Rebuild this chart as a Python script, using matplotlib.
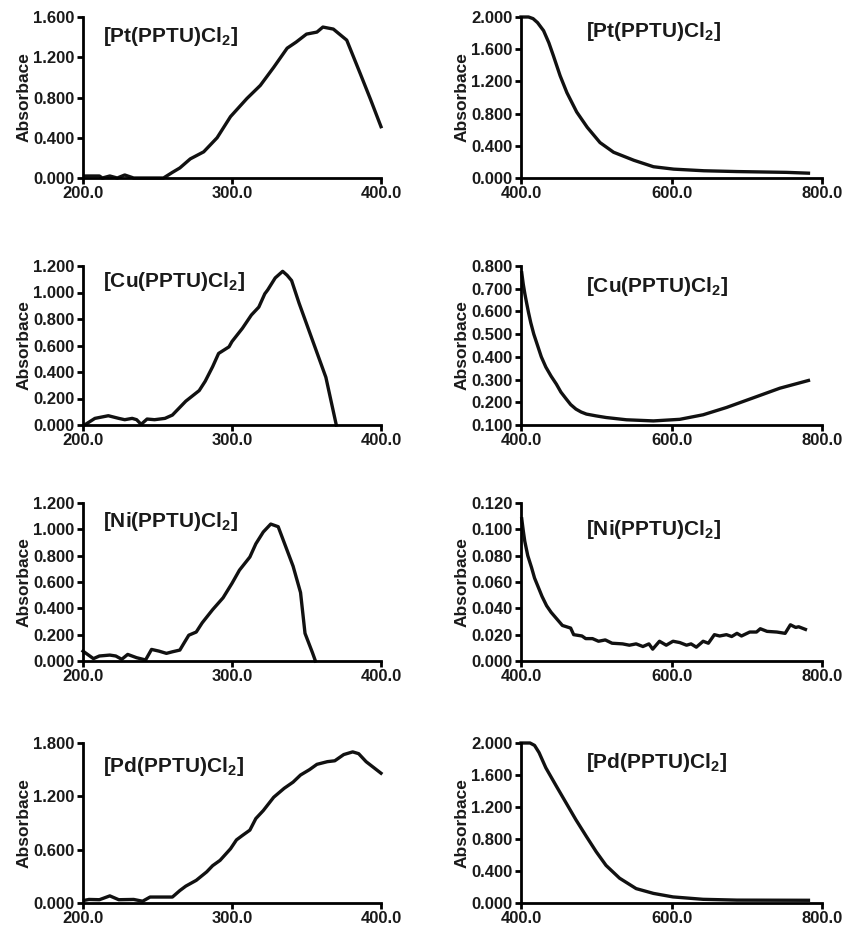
import matplotlib
matplotlib.use("Agg")
import matplotlib.pyplot as plt
from matplotlib.ticker import FormatStrFormatter

plt.rcParams["font.family"] = ["Liberation Sans", "DejaVu Sans"]
plt.rcParams["font.weight"] = "bold"
plt.rcParams["mathtext.fontset"] = "custom"
plt.rcParams["mathtext.rm"] = "Liberation Sans:bold"
plt.rcParams["mathtext.bf"] = "Liberation Sans:bold"

# ---- UV region (200-400 nm) ----
pt_uv_x = [201, 211, 213, 218, 223, 228, 234, 254, 260, 265, 272, 281, 290, 299,
           310, 319, 328, 337, 343, 350, 357, 361, 368, 377, 386, 393, 400]
pt_uv_y = [0.02, 0.02, 0.0, 0.02, 0.0, 0.03, 0.0, 0.0, 0.056, 0.10, 0.19, 0.26, 0.40, 0.61,
           0.79, 0.92, 1.10, 1.29, 1.35, 1.43, 1.45, 1.50, 1.48, 1.37, 1.04, 0.78, 0.51]

cu_uv_x = [201, 208, 217, 224, 228, 233, 236, 239, 243, 248, 255, 260, 269, 278, 282, 287,
           291, 298, 300, 307, 313, 318, 322, 324, 329, 334, 337, 340, 345, 354, 363, 370]
cu_uv_y = [0.0, 0.05, 0.07, 0.05, 0.04, 0.05, 0.04, 0.005, 0.045, 0.04, 0.05, 0.075, 0.18,
           0.26, 0.33, 0.44, 0.54, 0.59, 0.63, 0.73, 0.83, 0.89, 0.99, 1.02, 1.11, 1.16, 1.13,
           1.09, 0.92, 0.64, 0.36, 0.0]

ni_uv_x = [200, 207, 211, 218, 222, 226, 230, 236, 242, 246, 251, 256, 260, 265, 268, 271,
           276, 280, 287, 294, 300, 305, 312, 316, 321, 326, 331, 336, 341, 346, 349, 354, 356]
ni_uv_y = [0.075, 0.018, 0.038, 0.045, 0.038, 0.013, 0.05, 0.025, 0.008, 0.088, 0.075, 0.058,
           0.07, 0.083, 0.14, 0.196, 0.22, 0.29, 0.39, 0.48, 0.59, 0.69, 0.79, 0.89, 0.98, 1.04,
           1.02, 0.87, 0.72, 0.52, 0.21, 0.063, 0.0]

pd_uv_x = [201, 204, 211, 218, 224, 234, 240, 245, 260, 265, 269, 276, 283, 287, 292, 299,
           303, 307, 312, 316, 321, 328, 335, 341, 346, 352, 357, 364, 369, 375, 381, 385,
           390, 400]
pd_uv_y = [0.03, 0.04, 0.037, 0.08, 0.037, 0.04, 0.02, 0.067, 0.067, 0.14, 0.19, 0.255, 0.35,
           0.42, 0.48, 0.61, 0.71, 0.76, 0.82, 0.95, 1.04, 1.19, 1.29, 1.36, 1.44, 1.50, 1.56,
           1.59, 1.60, 1.67, 1.70, 1.68, 1.59, 1.46]

# ---- Visible region (400-800 nm) ----
pt_vis_x = [400, 410, 416, 422, 430, 437, 443, 452, 461, 474, 488, 505, 523, 550, 576, 603,
            643, 687, 753, 782]
pt_vis_y = [2.0, 2.0, 1.98, 1.93, 1.83, 1.68, 1.52, 1.27, 1.06, 0.82, 0.63, 0.44, 0.32, 0.22,
            0.14, 0.11, 0.09, 0.08, 0.07, 0.06]

cu_vis_x = [401, 403, 405, 407, 410, 413, 417, 422, 427, 433, 440, 447, 453, 460, 466, 473,
            480, 487, 500, 513, 540, 576, 611, 642, 673, 709, 744, 782]
cu_vis_y = [0.77, 0.72, 0.68, 0.645, 0.595, 0.55, 0.50, 0.45, 0.40, 0.355, 0.315, 0.28,
            0.245, 0.215, 0.19, 0.17, 0.157, 0.148, 0.14, 0.133, 0.123, 0.118, 0.125, 0.145,
            0.177, 0.22, 0.262, 0.296]

ni_vis_x = [401, 403, 405, 409, 414, 418, 423, 428, 434, 440, 446, 455, 466, 470, 481, 486,
            495, 503, 512, 521, 535, 544, 553, 562, 570, 575, 584, 593, 602, 611, 620, 626,
            633, 642, 649, 657, 664, 673, 680, 687, 693, 704, 713, 718, 727, 740, 751, 758,
            765, 769, 778]
ni_vis_y = [0.108, 0.099, 0.091, 0.080, 0.071, 0.063, 0.056, 0.049, 0.042, 0.037, 0.033,
            0.027, 0.025, 0.020, 0.019, 0.017, 0.017, 0.015, 0.016, 0.0135, 0.013, 0.012,
            0.013, 0.011, 0.013, 0.009, 0.015, 0.012, 0.015, 0.014, 0.012, 0.013, 0.0105,
            0.015, 0.0135, 0.020, 0.019, 0.020, 0.0186, 0.021, 0.019, 0.022, 0.022, 0.0245,
            0.0225, 0.022, 0.021, 0.0275, 0.0255, 0.026, 0.024]

pd_vis_x = [400, 412, 418, 424, 433, 447, 460, 473, 487, 500, 513, 531, 553, 576, 602, 642,
            687, 782]
pd_vis_y = [2.0, 2.0, 1.97, 1.88, 1.69, 1.46, 1.25, 1.04, 0.83, 0.64, 0.47, 0.31, 0.18, 0.12,
            0.076, 0.046, 0.036, 0.034]

titles = [r"$\mathbf{[Pt(PPTU)Cl}_{\mathbf{2}}\mathbf{]}$",
          r"$\mathbf{[Cu(PPTU)Cl}_{\mathbf{2}}\mathbf{]}$",
          r"$\mathbf{[Ni(PPTU)Cl}_{\mathbf{2}}\mathbf{]}$",
          r"$\mathbf{[Pd(PPTU)Cl}_{\mathbf{2}}\mathbf{]}$"]

uv_yticks = [[0, 0.4, 0.8, 1.2, 1.6],
             [0, 0.2, 0.4, 0.6, 0.8, 1.0, 1.2],
             [0, 0.2, 0.4, 0.6, 0.8, 1.0, 1.2],
             [0, 0.6, 1.2, 1.8]]
vis_yticks = [[0, 0.4, 0.8, 1.2, 1.6, 2.0],
              [0.1, 0.2, 0.3, 0.4, 0.5, 0.6, 0.7, 0.8],
              [0, 0.02, 0.04, 0.06, 0.08, 0.10, 0.12],
              [0, 0.4, 0.8, 1.2, 1.6, 2.0]]

uv_data = [(pt_uv_x, pt_uv_y), (cu_uv_x, cu_uv_y), (ni_uv_x, ni_uv_y), (pd_uv_x, pd_uv_y)]
vis_data = [(pt_vis_x, pt_vis_y), (cu_vis_x, cu_vis_y), (ni_vis_x, ni_vis_y), (pd_vis_x, pd_vis_y)]

W, H = 845, 931
fig = plt.figure(figsize=(W / 100, H / 100), dpi=100)

row_top = [17, 266, 503, 743]
row_bot = [178, 425, 661, 903]
uv_title_y = [0.88, 0.90, 0.88, 0.85]
vis_title_y = [0.91, 0.87, 0.83, 0.88]


def style_axes(ax, xlim, xticks, yticks):
    ax.set_xlim(*xlim)
    ax.set_ylim(yticks[0], yticks[-1])
    ax.set_xticks(xticks)
    ax.set_yticks(yticks)
    ax.xaxis.set_major_formatter(FormatStrFormatter("%.1f"))
    ax.yaxis.set_major_formatter(FormatStrFormatter("%.3f"))
    for side in ("top", "right"):
        ax.spines[side].set_visible(False)
    for side in ("left", "bottom"):
        ax.spines[side].set_linewidth(2)
    ax.tick_params(direction="out", length=4.5, width=2, labelsize=12, pad=1.5,
                   labelcolor="#1a1a1a")
    for lab in ax.get_xticklabels() + ax.get_yticklabels():
        lab.set_fontweight("bold")
    ax.set_ylabel("Absorbace", fontsize=12.5, fontweight="bold", labelpad=1,
                  color="#1a1a1a")


for i in range(4):
    b = 1 - row_bot[i] / H
    h = (row_bot[i] - row_top[i]) / H

    ax = fig.add_axes([83 / W, b, 298 / W, h])
    x, y = uv_data[i]
    ax.plot(x, y, color="#111111", lw=2.4, clip_on=False, solid_joinstyle="round")
    style_axes(ax, (200, 400), [200, 300, 400], uv_yticks[i])
    ax.text(0.067, uv_title_y[i], titles[i], transform=ax.transAxes, fontsize=15,
            va="center", ha="left", color="#1a1a1a")

    ax = fig.add_axes([521 / W, b, 301 / W, h])
    x, y = vis_data[i]
    ax.plot(x, y, color="#111111", lw=2.4, clip_on=False, solid_joinstyle="round")
    style_axes(ax, (400, 800), [400, 600, 800], vis_yticks[i])
    ax.text(0.215, vis_title_y[i], titles[i], transform=ax.transAxes, fontsize=15,
            va="center", ha="left", color="#1a1a1a")

fig.savefig("out.png", dpi=100, facecolor="white")
